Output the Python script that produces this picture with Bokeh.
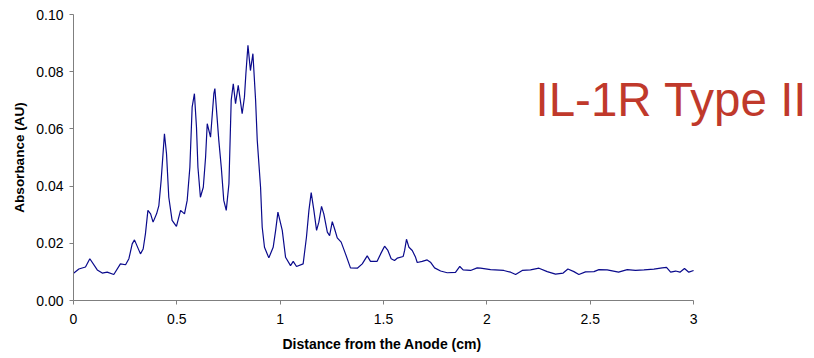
from bokeh.plotting import figure
from bokeh.models import Range1d, Label, Title, FixedTicker, NumeralTickFormatter, CustomJSTickFormatter
from bokeh.embed import file_html
from bokeh.resources import INLINE

distance_cm = [
    0.0, 0.005, 0.026, 0.058, 0.079, 0.115, 0.139, 0.163, 0.195, 0.227, 0.252, 0.268,
    0.284, 0.295, 0.324, 0.337, 0.348, 0.36, 0.373, 0.385, 0.402, 0.413, 0.424, 0.44,
    0.45, 0.461, 0.477, 0.498, 0.518, 0.537, 0.55, 0.563, 0.574, 0.585, 0.595, 0.602,
    0.614, 0.628, 0.639, 0.647, 0.663, 0.679, 0.684, 0.703, 0.715, 0.727, 0.739, 0.752,
    0.763, 0.773, 0.784, 0.797, 0.816, 0.827, 0.834, 0.844, 0.856, 0.868, 0.881, 0.889,
    0.905, 0.913, 0.924, 0.945, 0.966, 0.978, 0.989, 1.01, 1.026, 1.05, 1.063, 1.079,
    1.111, 1.127, 1.139, 1.15, 1.163, 1.176, 1.187, 1.2, 1.211, 1.228, 1.239, 1.252,
    1.263, 1.276, 1.295, 1.316, 1.34, 1.373, 1.397, 1.421, 1.437, 1.469, 1.486, 1.505,
    1.521, 1.537, 1.553, 1.566, 1.595, 1.602, 1.611, 1.623, 1.639, 1.655, 1.663, 1.687,
    1.711, 1.727, 1.747, 1.776, 1.808, 1.848, 1.869, 1.885, 1.921, 1.953, 1.969, 2.018,
    2.082, 2.115, 2.139, 2.171, 2.211, 2.252, 2.292, 2.332, 2.369, 2.392, 2.421, 2.445,
    2.477, 2.518, 2.542, 2.582, 2.637, 2.679, 2.719, 2.76, 2.808, 2.848, 2.869, 2.889,
    2.913, 2.934, 2.956, 2.977, 3.0,
]
absorbance_au = [
    0.0095, 0.0098, 0.011, 0.0117, 0.0146, 0.0107, 0.0096, 0.0099, 0.0091, 0.0128, 0.0125, 0.0146,
    0.0198, 0.0212, 0.0163, 0.018, 0.0233, 0.0315, 0.0303, 0.0274, 0.0303, 0.0332, 0.042, 0.0583,
    0.0513, 0.0361, 0.028, 0.0259, 0.0315, 0.0303, 0.035, 0.0466, 0.0676, 0.0723, 0.0606, 0.0466,
    0.0361, 0.0396, 0.0501, 0.0618, 0.0571, 0.0723, 0.0741, 0.056, 0.0466, 0.035, 0.0315, 0.0408,
    0.07, 0.0758, 0.0688, 0.0752, 0.0653, 0.0711, 0.0793, 0.0892, 0.0804, 0.0863, 0.07, 0.056,
    0.0396, 0.0256, 0.0186, 0.0149, 0.0186, 0.0245, 0.0309, 0.0245, 0.0151, 0.0122, 0.0137, 0.0119,
    0.0128, 0.0221, 0.0315, 0.0377, 0.0315, 0.0245, 0.0274, 0.0329, 0.0303, 0.0239, 0.0227, 0.0276,
    0.0251, 0.0219, 0.0204, 0.0163, 0.0114, 0.0113, 0.0128, 0.0156, 0.0137, 0.0137, 0.0163, 0.019,
    0.0175, 0.0146, 0.014, 0.0148, 0.0154, 0.0175, 0.0214, 0.0186, 0.0175, 0.0151, 0.0133, 0.0137,
    0.0142, 0.0134, 0.0114, 0.0103, 0.0097, 0.0098, 0.0119, 0.0107, 0.0105, 0.0114, 0.0113, 0.0108,
    0.0105, 0.0099, 0.0091, 0.0105, 0.0107, 0.0113, 0.0101, 0.0092, 0.0096, 0.011, 0.0101, 0.0091,
    0.01, 0.0101, 0.0108, 0.0107, 0.0099, 0.0108, 0.0105, 0.0107, 0.011, 0.0114, 0.0116, 0.0099,
    0.0103, 0.0099, 0.0112, 0.0099, 0.0105,
]
x_ticks = [0, 0.5, 1, 1.5, 2, 2.5, 3]
y_ticks = [0.0, 0.02, 0.04, 0.06, 0.08, 0.10]
title_text = "IL-1R Type II"
x_title = "Distance from the Anode (cm)"
y_title = "Absorbance (AU)"

FONT = "Liberation Sans"

# frame spans the full width to the right so the big title is not clipped;
# the x axis line itself is bounded to 0..3
p = figure(
    width=814, height=358, output_backend="svg", toolbar_location=None,
    x_range=Range1d(0, 3.585), y_range=Range1d(0, 0.1),
    min_border_left=73, min_border_right=0, min_border_top=14, min_border_bottom=58,
)
p.outline_line_color = None
p.grid.visible = False
p.background_fill_color = "white"
p.border_fill_color = "white"

p.line(distance_cm, absorbance_au, line_color="#0a0a8c", line_width=1.2)

p.xaxis.ticker = FixedTicker(ticks=x_ticks)
p.xaxis.bounds = (0, 3)
p.xaxis.formatter = CustomJSTickFormatter(code="return String(tick);")
p.yaxis.ticker = FixedTicker(ticks=y_ticks)
p.yaxis.formatter = NumeralTickFormatter(format="0.00")

for ax in (p.xaxis[0], p.yaxis[0]):
    ax.axis_line_color = "#7f7f7f"
    ax.major_tick_line_color = "#7f7f7f"
    ax.major_tick_out = 4
    ax.major_tick_in = 0
    ax.minor_tick_line_color = None
    ax.major_label_text_font = FONT
    ax.major_label_text_font_size = "14px"
    ax.major_label_text_color = "black"
    ax.axis_label_text_font = FONT
    ax.axis_label_text_font_style = "bold"
    ax.axis_label_text_color = "black"

p.yaxis.axis_label = y_title
p.yaxis.axis_label_text_font_size = "13.5px"
p.xaxis.major_label_standoff = 9
p.yaxis.major_label_standoff = 6
p.yaxis.axis_label_standoff = 6

# x axis title, left-aligned with an offset so it is centred under the 0..3 span
xt = Title(text=x_title, align="left", offset=209, text_font=FONT, text_font_size="14px",
           text_font_style="bold", text_color="black", standoff=14)
p.add_layout(xt, "below")

lbl = Label(x=2.235, y=0.0703, text=title_text, text_font=FONT, text_font_size="47.5px",
            text_color="#c0392b", text_baseline="alphabetic")
p.add_layout(lbl)

open("out.html", "w").write(file_html(p, INLINE))
